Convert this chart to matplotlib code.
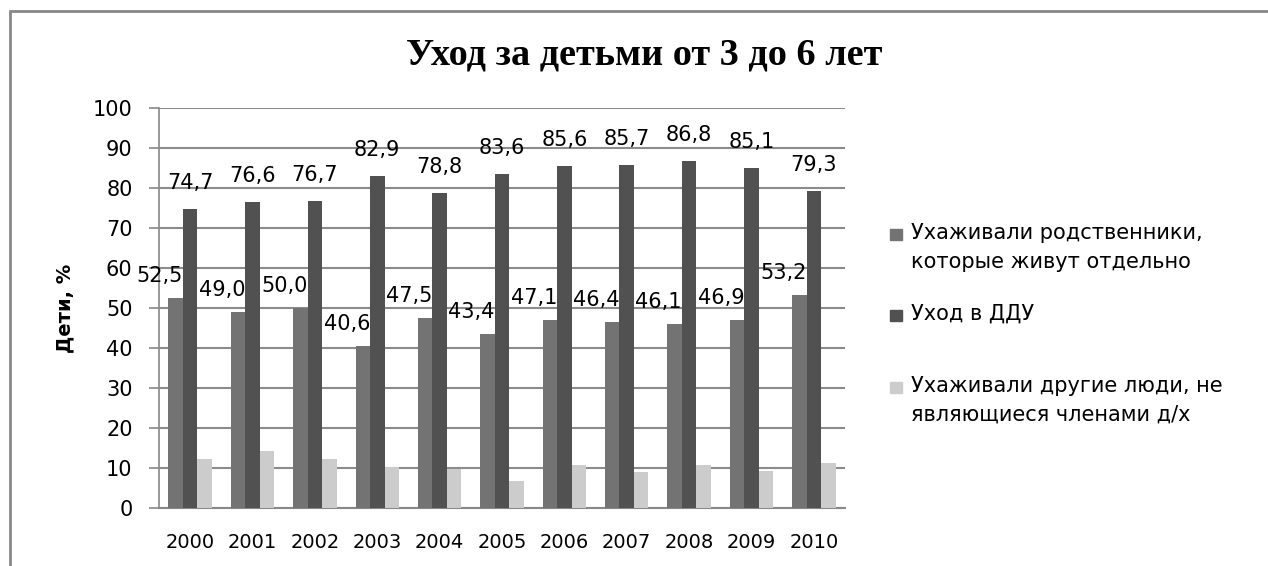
import numpy as np
import matplotlib
matplotlib.use("Agg")
import matplotlib.pyplot as plt
from matplotlib.patches import Rectangle

years = ["2000", "2001", "2002", "2003", "2004", "2005",
         "2006", "2007", "2008", "2009", "2010"]
relatives = [52.5, 49.0, 50.0, 40.6, 47.5, 43.4, 47.1, 46.4, 46.1, 46.9, 53.2]
kindergarten = [74.7, 76.6, 76.7, 82.9, 78.8, 83.6, 85.6, 85.7, 86.8, 85.1, 79.3]
others = [12.3, 14.3, 12.3, 10.3, 9.8, 6.8, 10.8, 9.1, 10.8, 9.3, 11.3]

labels = ["Ухаживали родственники,\nкоторые живут отдельно",
          "Уход в ДДУ",
          "Ухаживали другие люди, не\nявляющиеся членами д/х"]
colors = ["#737373", "#515151", "#cccccc"]

W, H = 1268, 566
fig = plt.figure(figsize=(W / 100, H / 100), dpi=100)
ax = fig.add_axes([159 / W, 1 - 508 / H, (845 - 159) / W, 400 / H])

x = np.arange(len(years))
bw = 0.232
b1 = ax.bar(x - bw, relatives, bw, color=colors[0], zorder=3)
b2 = ax.bar(x, kindergarten, bw, color=colors[1], zorder=3)
b3 = ax.bar(x + bw, others, bw, color=colors[2], zorder=3)

def fmt(v):
    return ("%.1f" % v).replace(".", ",")

for rect, v in zip(b1, relatives):
    ax.annotate(fmt(v), (rect.get_x() + rect.get_width() / 2, v),
                xytext=(-16, 22), textcoords="offset pixels",
                ha="center", va="center", fontsize=15, zorder=4)
for rect, v in zip(b2, kindergarten):
    ax.annotate(fmt(v), (rect.get_x() + rect.get_width() / 2, v),
                xytext=(0, 26), textcoords="offset pixels",
                ha="center", va="center", fontsize=15, zorder=4)

ax.set_xlim(-0.5, len(years) - 0.5)
ax.set_ylim(0, 100)
ax.set_yticks(np.arange(0, 101, 10))
ax.set_xticks(x)
ax.set_xticklabels(years, fontsize=14)
ax.tick_params(axis="y", labelsize=15, length=7, color="#888888", width=1.2, pad=12)
ax.tick_params(axis="x", length=0, pad=18)
ax.grid(axis="y", color="#8c8c8c", linewidth=1.5, zorder=0)
for s in ["top", "right"]:
    ax.spines[s].set_visible(False)
ax.spines["left"].set_color("#888888")
ax.spines["bottom"].set_color("#888888")
ax.spines["left"].set_linewidth(1.2)
ax.spines["bottom"].set_linewidth(1.5)

fig.text(644 / W, 1 - 55 / H, "Уход за детьми от 3 до 6 лет",
         family="Liberation Serif", weight="bold", fontsize=27.5,
         ha="center", va="center")
fig.text(65 / W, 1 - 308 / H, "Дети, %", rotation=90, weight="bold",
         fontsize=14, ha="center", va="center")

# legend drawn by hand to keep Excel's uneven spacing
leg_y = [234, 315, 387]
for lab, c, yy in zip(labels, colors, leg_y):
    fig.patches.append(Rectangle((890 / W, 1 - (yy + 6) / H), 12 / W, 11 / H,
                                 transform=fig.transFigure, color=c))
    fig.text(911 / W, 1 - (yy - 11) / H, lab, fontsize=15, ha="left", va="top",
             linespacing=1.55)

# outer chart border
fig.patches.append(Rectangle((9.5 / W, -0.1), 1.2, 1 - 11 / H + 0.1,
                             transform=fig.transFigure, fill=False,
                             edgecolor="#888888", linewidth=2))

fig.savefig("out.png", dpi=100)
